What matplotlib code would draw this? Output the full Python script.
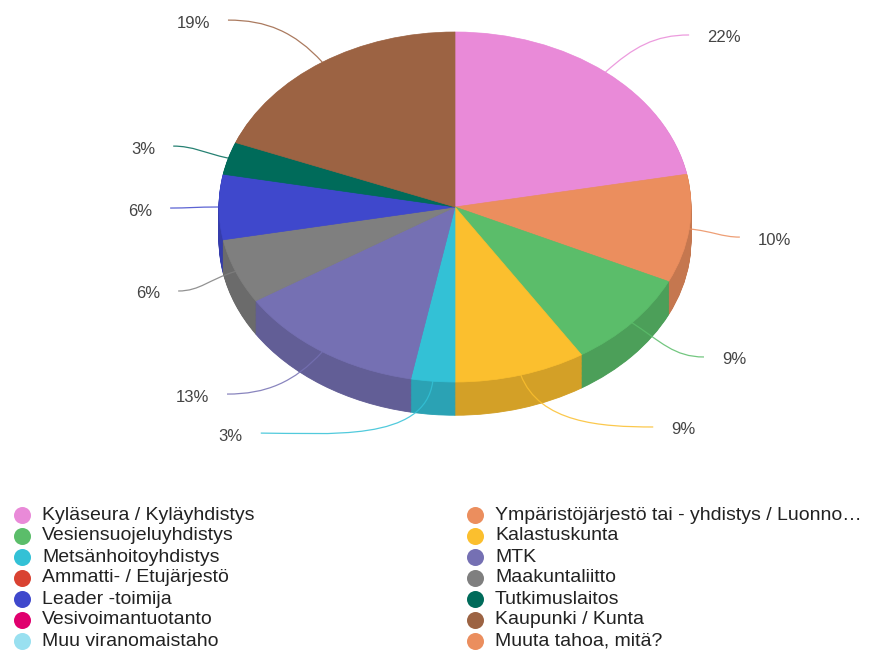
import numpy as np
import matplotlib.pyplot as plt
from matplotlib.path import Path
from matplotlib.patches import PathPatch
from matplotlib.colors import to_rgb

plt.rcParams['font.family'] = ['Liberation Sans', 'DejaVu Sans']

# data (legend order = pie order, clockwise from top)
categories = ["Kyläseura / Kyläyhdistys",
              "Ympäristöjärjestö tai - yhdistys / Luonno…",
              "Vesiensuojeluyhdistys", "Kalastuskunta",
              "Metsänhoitoyhdistys", "MTK",
              "Ammatti- / Etujärjestö", "Maakuntaliitto",
              "Leader -toimija", "Tutkimuslaitos",
              "Vesivoimantuotanto", "Kaupunki / Kunta",
              "Muu viranomaistaho", "Muuta tahoa, mitä?"]
shares = [22, 10, 9, 9, 3, 13, 0, 6, 6, 3, 0, 19, 0, 0]
colors = ["#e98ad8", "#eb8e5e", "#5bbd6a", "#fbbf2e", "#33c1d6", "#7570b3",
          "#d94232", "#7f7f7f", "#3f48cc", "#006b5a", "#e0006e", "#9c6343",
          "#99e0f0", "#eb8e5e"]

# label placement for the non-zero slices (pie units, x: text edge, y: centre)
label_pos = [(1.068, 0.966), (1.283, -0.189), (1.131, -0.874), (0.916, -1.274),
             (-0.899, -1.309), (-1.042, -1.086), (-1.249, -0.497),
             (-1.283, -0.023), (-1.270, 0.331), (-1.038, 1.051)]

W, H = 875, 652
cx, cy = 455, 207          # pie centre in pixels (from top)
rx, ry = 236, 175          # ellipse radii in pixels
depth = 0.19               # side height in pie units
L = 1.5

fig = plt.figure(figsize=(W / 100, H / 100), dpi=100)
ax = fig.add_axes([(cx - L * rx) / W, (H - cy - L * ry) / H, 2 * L * rx / W, 2 * L * ry / H])

vals = [v for v in shares if v > 0]
cols = [c for v, c in zip(shares, colors) if v > 0]
side_cols = [tuple(0.84 * np.array(to_rgb(c))) for c in cols]

# side of the 3d pie: stacked copies shifted down
for d in np.linspace(depth, 0.005, 40):
    ax.pie(vals, colors=side_cols, startangle=90, counterclock=False,
           center=(0, -d), radius=1,
           wedgeprops=dict(linewidth=0.6, edgecolor=None))
for w in ax.patches:
    w.set_edgecolor(w.get_facecolor())

wedges, _ = ax.pie(vals, colors=cols, startangle=90, counterclock=False,
                   center=(0, 0), radius=1,
                   wedgeprops=dict(linewidth=0.5))
for w in wedges:
    w.set_edgecolor(w.get_facecolor())

total = sum(vals)
for w, v, c, (lx, ly) in zip(wedges, vals, cols, label_pos):
    m = np.deg2rad((w.theta1 + w.theta2) / 2)
    sx, sy = np.cos(m), np.sin(m)
    right = lx > 0
    gap = 0.076
    ex, ey = (lx - gap, ly + 0.017) if right else (lx + gap, ly + 0.017)
    dist = np.hypot(ex - sx, ey - sy)
    c1 = (sx + 0.45 * dist * np.cos(m), sy + 0.45 * dist * np.sin(m))
    c2 = (ex - 0.35 * dist, ey) if right else (ex + 0.35 * dist, ey)
    path = Path([(sx, sy), c1, c2, (ex, ey)],
                [Path.MOVETO, Path.CURVE4, Path.CURVE4, Path.CURVE4])
    ax.add_patch(PathPatch(path, facecolor='none', edgecolor=c, lw=0.9, alpha=0.85, zorder=5))
    ax.text(lx, ly, f"{round(v / total * 100)}%", ha='left' if right else 'right',
            va='center', fontsize=12, color='#444444')

ax.set_aspect('auto')
ax.set_xlim(-L, L)
ax.set_ylim(-L, L)
ax.axis('off')

# legend (row-wise, two columns)
lg = fig.add_axes([0, 0, 1, 1])
lg.set_xlim(0, W)
lg.set_ylim(H, 0)
lg.axis('off')
for i, (name, c) in enumerate(zip(categories, colors)):
    row, col = i // 2, i % 2
    x = 22 if col == 0 else 475
    y = 515 + 21 * row
    lg.scatter([x], [y], s=150, color=c, linewidths=0)
    lg.text(x + 20, y, name, ha='left', va='center', fontsize=14, color='#222222')

fig.savefig("out.png", dpi=100)
